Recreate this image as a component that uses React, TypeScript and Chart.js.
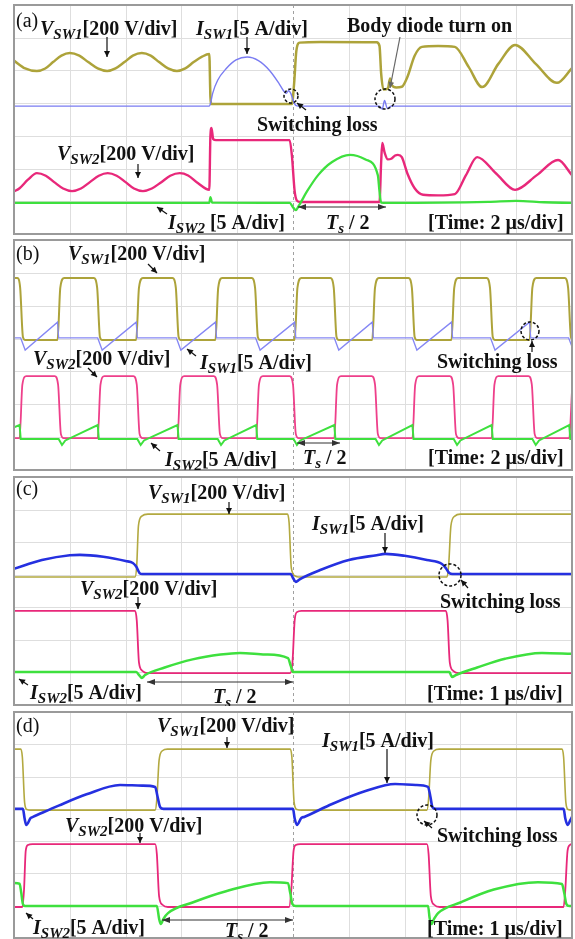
import React, { useEffect, useRef } from 'react';
import { Chart, registerables } from 'chart.js';
Chart.register(...registerables);

type P = [number, number];

// ---------- Panel (a): time 2 us/div, values in divisions ----------
const A_VSW1: P[] = [[0,5.3],[0.2,5.06],[0.41,4.98],[0.56,5.06],[0.7,5.255],[0.85,5.45],[1.0,5.53],[1.17,5.45],[1.33,5.255],[1.5,5.06],[1.67,4.98],[1.82,5.06],[1.98,5.255],[2.13,5.45],[2.29,5.53],[2.45,5.45],[2.6,5.255],[2.76,5.06],[2.92,4.98],[3.07,5.06],[3.22,5.255],[3.37,5.42],[3.5,5.5],[3.52,4.2],[3.54,3.97],[4.98,3.97],[5.02,4.6],[5.06,5.6],[5.12,5.85],[5.5,5.87],[6.5,5.86],[6.55,5.75],[6.58,4.9],[6.62,4.42],[6.7,4.45],[6.74,4.75],[6.77,4.55],[6.85,4.48],[6.95,4.5],[7.05,4.8],[7.18,5.45],[7.31,5.72],[7.6,5.75],[7.9,5.72],[8.15,5.1],[8.39,4.49],[8.68,5.2],[8.98,5.78],[9.35,5.2],[9.73,4.62],[10,5.07]];
const A_ISW1: P[] = [[0,3.91],[3.5,3.91],[3.52,3.98],[3.56,4.3],[3.65,4.7],[3.8,5.05],[3.98,5.32],[4.18,5.41],[4.38,5.3],[4.58,5.0],[4.75,4.6],[4.83,4.38],[4.88,4.3],[4.92,4.38],[4.96,4.3],[5.0,4.1],[5.05,3.93],[5.1,3.91],[6.55,3.91],[6.6,3.82],[6.64,4.08],[6.69,3.84],[6.76,3.91],[10,3.91]];
const A_VSW2: P[] = [[0,1.3],[0.1,1.4],[0.25,1.66],[0.41,1.86],[0.57,1.78],[0.72,1.585],[0.88,1.39],[1.04,1.31],[1.2,1.39],[1.36,1.585],[1.52,1.78],[1.68,1.86],[1.84,1.78],[2.0,1.585],[2.15,1.39],[2.31,1.31],[2.47,1.39],[2.64,1.585],[2.8,1.78],[2.97,1.86],[3.12,1.79],[3.3,1.55],[3.5,1.35],[3.52,3.0],[3.54,3.24],[3.57,2.9],[3.62,2.87],[4.94,2.87],[4.98,2.4],[5.03,1.3],[5.07,1.02],[5.12,0.98],[6.55,0.98],[6.58,2.2],[6.6,2.78],[6.64,2.5],[6.7,2.28],[6.76,2.3],[6.83,2.4],[6.88,2.42],[6.95,2.35],[7.05,1.85],[7.18,1.4],[7.33,1.2],[7.6,1.18],[7.9,1.22],[8.1,1.8],[8.3,2.35],[8.64,1.85],[8.98,1.35],[9.37,1.8],[9.75,2.26],[10,1.8]];
const A_ISW2: P[] = [[0,0.95],[3.5,0.95],[3.52,1.13],[3.55,0.96],[4.94,0.95],[5.0,0.82],[5.05,0.73],[5.1,0.85],[5.25,1.3],[5.45,1.8],[5.7,2.2],[6.02,2.42],[6.3,2.28],[6.52,1.8],[6.55,1.3],[6.58,0.96],[6.7,0.95],[8.5,0.98],[9.0,1.01],[9.5,0.97],[10,0.95]];

// ---------- Panel (b): time 2 us/div ----------
const B_VSW1: P[] = [[0,5.84],[0.06,5.84],[0.11,5.55],[0.16,4.05],[0.2,3.96],[0.78,3.96],[0.83,5.55],[0.9,5.84],[1.43,5.84],[1.49,5.55],[1.54,4.05],[1.58,3.96],[2.19,3.96],[2.24,5.55],[2.31,5.84],[2.84,5.84],[2.9,5.55],[2.95,4.05],[2.99,3.96],[3.61,3.96],[3.66,5.55],[3.73,5.84],[4.26,5.84],[4.32,5.55],[4.37,4.05],[4.41,3.96],[5.03,3.96],[5.08,5.55],[5.15,5.84],[5.67,5.84],[5.73,5.55],[5.78,4.05],[5.82,3.96],[6.42,3.96],[6.47,5.55],[6.54,5.84],[7.07,5.84],[7.13,5.55],[7.18,4.05],[7.22,3.96],[7.84,3.96],[7.89,5.55],[7.96,5.84],[8.47,5.84],[8.53,5.55],[8.58,4.05],[8.62,3.96],[9.24,3.96],[9.29,5.55],[9.36,5.84],[9.87,5.84],[9.93,5.55],[9.98,4.05],[10,3.98]];
const B_ISW1: P[] = [[0,4.02],[0.12,4.02],[0.2,3.65],[0.78,4.5],[0.8,4.02],[1.5,4.02],[1.58,3.65],[2.19,4.5],[2.21,4.02],[2.91,4.02],[2.99,3.65],[3.61,4.5],[3.63,4.02],[4.33,4.02],[4.41,3.65],[5.03,4.5],[5.05,4.02],[5.74,4.02],[5.82,3.65],[6.42,4.5],[6.44,4.02],[7.14,4.02],[7.22,3.65],[7.84,4.5],[7.86,4.02],[8.54,4.02],[8.62,3.65],[9.24,4.5],[9.26,4.02],[9.94,4.02],[10,3.75]];
const B_VSW2: P[] = [[0,0.97],[0.1,0.97],[0.15,2.6],[0.22,2.86],[0.73,2.86],[0.79,2.6],[0.84,1.1],[0.89,0.97],[1.5,0.97],[1.55,2.6],[1.62,2.86],[2.14,2.86],[2.2,2.6],[2.25,1.1],[2.3,0.97],[2.93,0.97],[2.98,2.6],[3.05,2.86],[3.58,2.86],[3.64,2.6],[3.69,1.1],[3.74,0.97],[4.34,0.97],[4.39,2.6],[4.46,2.86],[4.94,2.86],[5.0,2.6],[5.05,1.1],[5.1,0.97],[5.74,0.97],[5.79,2.6],[5.86,2.86],[6.41,2.86],[6.47,2.6],[6.52,1.1],[6.57,0.97],[7.14,0.97],[7.19,2.6],[7.26,2.86],[7.81,2.86],[7.87,2.6],[7.92,1.1],[7.97,0.97],[8.56,0.97],[8.61,2.6],[8.68,2.86],[9.22,2.86],[9.28,2.6],[9.33,1.1],[9.38,0.97],[9.95,0.97],[10,2.4]];
const B_ISW2: P[] = [[0,1.3],[0.1,1.37],[0.12,0.94],[0.8,0.94],[0.86,0.76],[0.92,0.9],[1.5,1.37],[1.52,0.94],[2.21,0.94],[2.27,0.76],[2.33,0.9],[2.93,1.37],[2.95,0.94],[3.65,0.94],[3.71,0.76],[3.77,0.9],[4.34,1.37],[4.36,0.94],[5.01,0.94],[5.07,0.76],[5.13,0.9],[5.74,1.37],[5.76,0.94],[6.48,0.94],[6.54,0.76],[6.6,0.9],[7.14,1.37],[7.16,0.94],[7.88,0.94],[7.94,0.76],[8.0,0.9],[8.56,1.37],[8.58,0.94],[9.29,0.94],[9.35,0.76],[9.41,0.9],[9.95,1.37],[9.97,0.94],[10,0.94]];

// ---------- Panel (c): time 1 us/div ----------
const C_VSW1: P[] = [[0,3.93],[2.17,3.93],[2.2,4.3],[2.23,5.5],[2.29,5.8],[2.4,5.86],[4.9,5.86],[4.93,5.6],[4.97,4.2],[5.04,3.96],[5.1,3.93],[7.76,3.93],[7.79,4.3],[7.83,5.5],[7.9,5.8],[8.0,5.86],[10,5.86]];
const C_ISW1: P[] = [[0,4.18],[0.5,4.45],[1.0,4.6],[1.18,4.61],[1.6,4.55],[2.0,4.42],[2.13,4.36],[2.19,4.25],[2.25,4.05],[2.3,4.02],[4.96,4.02],[5.0,3.9],[5.05,3.78],[5.12,3.86],[5.5,4.15],[6.0,4.45],[6.5,4.6],[6.65,4.64],[7.0,4.58],[7.4,4.45],[7.67,4.33],[7.74,4.2],[7.8,4.05],[7.86,4.02],[10,4.02]];
const C_VSW2: P[] = [[0,2.89],[2.17,2.89],[2.2,2.6],[2.24,1.3],[2.3,1.05],[2.4,0.98],[4.95,0.98],[4.99,1.3],[5.03,2.6],[5.07,2.85],[5.15,2.89],[7.74,2.89],[7.77,2.6],[7.81,1.3],[7.87,1.05],[7.97,0.98],[10,0.98]];
const C_ISW2: P[] = [[0,1.01],[2.19,1.01],[2.25,0.9],[2.29,0.83],[2.35,0.92],[2.7,1.15],[3.2,1.4],[3.7,1.55],[4.05,1.6],[4.5,1.55],[4.91,1.44],[4.96,1.2],[5.0,1.01],[7.8,1.01],[7.83,0.92],[7.85,0.86],[7.92,0.92],[8.3,1.15],[8.8,1.42],[9.46,1.6],[10,1.57]];

// ---------- Panel (d): time 1 us/div ----------
const D_VSW1: P[] = [[0,5.85],[0.12,5.85],[0.15,5.6],[0.19,4.2],[0.23,3.98],[0.3,3.96],[2.53,3.96],[2.56,4.3],[2.6,5.5],[2.66,5.8],[2.75,5.85],[4.95,5.85],[4.98,5.6],[5.02,4.2],[5.07,3.98],[5.15,3.96],[7.4,3.96],[7.43,4.3],[7.47,5.5],[7.53,5.8],[7.62,5.85],[9.82,5.85],[9.85,5.6],[9.89,4.2],[9.93,3.98],[10,3.96]];
const D_ISW1: P[] = [[0,4.0],[0.16,4.0],[0.19,3.7],[0.22,3.5],[0.3,3.72],[0.34,3.75],[0.8,4.1],[1.3,4.45],[1.9,4.74],[2.3,4.72],[2.53,4.68],[2.57,4.4],[2.62,4.05],[2.68,4.0],[5.0,4.0],[5.03,3.7],[5.07,3.5],[5.15,3.72],[5.2,3.75],[5.7,4.15],[6.3,4.55],[6.83,4.77],[7.2,4.74],[7.42,4.68],[7.46,4.4],[7.5,4.05],[7.56,4.0],[9.85,4.0],[9.88,3.7],[9.92,3.5],[9.97,3.65],[10,3.75]];
const D_VSW2: P[] = [[0,0.96],[0.15,0.96],[0.18,1.5],[0.21,2.7],[0.25,2.88],[0.33,2.91],[2.53,2.91],[2.56,2.6],[2.6,1.3],[2.66,1.03],[2.76,0.96],[4.93,0.96],[4.97,1.5],[5.01,2.7],[5.05,2.88],[5.13,2.91],[7.4,2.91],[7.43,2.6],[7.47,1.3],[7.53,1.03],[7.63,0.96],[9.85,0.96],[9.88,1.5],[9.92,2.7],[9.96,2.88],[10,2.91]];
const D_ISW2: P[] = [[0,1.7],[0.1,1.68],[0.13,1.4],[0.16,1.05],[0.2,0.99],[2.56,0.99],[2.6,0.6],[2.63,0.43],[2.68,0.6],[2.76,0.77],[3.2,1.1],[3.8,1.45],[4.59,1.73],[4.91,1.7],[4.95,1.4],[4.99,1.05],[5.05,0.99],[7.42,0.99],[7.45,0.6],[7.48,0.43],[7.53,0.6],[7.6,0.77],[8.0,1.1],[8.6,1.5],[9.39,1.73],[9.82,1.67],[9.86,1.4],[9.9,1.05],[9.95,0.99],[10,0.99]];

const X_DIVS = 10;
const Y_DIVS = 7;

type Ann =
  | { k: 'txt'; x: number; y: number; s: string; reg?: boolean }
  | { k: 'sub'; x: number; y: number; m: string; sub: string; r: string }
  | { k: 'arr'; x1: number; y1: number; x2: number; y2: number; c?: string }
  | { k: 'dbl'; x1: number; x2: number; y: number }
  | { k: 'cir'; x: number; y: number; r: number };

const FONT = '"Liberation Serif", "Times New Roman", serif';

function head(ctx: CanvasRenderingContext2D, x1: number, y1: number, x2: number, y2: number, len = 6, hw = 3) {
  const ang = Math.atan2(y2 - y1, x2 - x1);
  ctx.beginPath();
  ctx.moveTo(x2, y2);
  ctx.lineTo(x2 - len * Math.cos(ang) + hw * Math.sin(ang), y2 - len * Math.sin(ang) - hw * Math.cos(ang));
  ctx.lineTo(x2 - len * Math.cos(ang) - hw * Math.sin(ang), y2 - len * Math.sin(ang) + hw * Math.cos(ang));
  ctx.closePath();
  ctx.fill();
}

function drawAnns(ctx: CanvasRenderingContext2D, anns: Ann[]) {
  ctx.save();
  ctx.textBaseline = 'alphabetic';
  for (const a of anns) {
    ctx.fillStyle = '#111';
    ctx.strokeStyle = '#111';
    ctx.setLineDash([]);
    if (a.k === 'txt') {
      ctx.font = `${a.reg ? '' : 'bold '}20px ${FONT}`;
      ctx.fillText(a.s, a.x, a.y + 7);
    } else if (a.k === 'sub') {
      let x = a.x;
      ctx.font = `italic bold 20px ${FONT}`;
      ctx.fillText(a.m, x, a.y + 7);
      x += ctx.measureText(a.m).width;
      ctx.font = `italic bold 15px ${FONT}`;
      ctx.fillText(a.sub, x, a.y + 11);
      x += ctx.measureText(a.sub).width;
      ctx.font = `bold 20px ${FONT}`;
      ctx.fillText(a.r, x, a.y + 7);
    } else if (a.k === 'arr') {
      const c = a.c || '#111';
      ctx.strokeStyle = c;
      ctx.fillStyle = c;
      ctx.lineWidth = 1.2;
      ctx.beginPath();
      ctx.moveTo(a.x1, a.y1);
      ctx.lineTo(a.x2, a.y2);
      ctx.stroke();
      head(ctx, a.x1, a.y1, a.x2, a.y2, 6, 3);
    } else if (a.k === 'dbl') {
      ctx.strokeStyle = '#333';
      ctx.fillStyle = '#333';
      ctx.lineWidth = 1.2;
      ctx.beginPath();
      ctx.moveTo(a.x1, a.y);
      ctx.lineTo(a.x2, a.y);
      ctx.stroke();
      head(ctx, a.x2, a.y, a.x1, a.y, 8, 3);
      head(ctx, a.x1, a.y, a.x2, a.y, 8, 3);
    } else if (a.k === 'cir') {
      ctx.lineWidth = 1.5;
      ctx.setLineDash([3, 2]);
      ctx.beginPath();
      ctx.arc(a.x, a.y, a.r, 0, Math.PI * 2);
      ctx.stroke();
    }
  }
  ctx.restore();
}

type Trace = { data: P[]; color: string; width: number; straight?: boolean };
type PanelCfg = { left: number; top: number; width: number; height: number; traces: Trace[]; anns: Ann[] };

const OLIVE = '#ada33a';
const PINK = '#e8287a';
const GREEN = '#3ee03e';

const PANELS: PanelCfg[] = [
  {
    left: 13, top: 4, width: 560, height: 231,
    traces: [
      { data: A_ISW2, color: GREEN, width: 2.3 },
      { data: A_VSW2, color: PINK, width: 2.4 },
      { data: A_ISW1, color: '#7a7cf2', width: 1.4 },
      { data: A_VSW1, color: OLIVE, width: 2.5 },
    ],
    anns: [
      { k: 'txt', x: 16, y: 20, s: '(a)', reg: true },
      { k: 'sub', x: 40, y: 28, m: 'V', sub: 'SW1', r: '[200 V/div]' },
      { k: 'arr', x1: 107, y1: 37, x2: 107, y2: 57 },
      { k: 'sub', x: 196, y: 28, m: 'I', sub: 'SW1', r: '[5 A/div]' },
      { k: 'arr', x1: 247, y1: 37, x2: 247, y2: 54 },
      { k: 'txt', x: 347, y: 25, s: 'Body diode turn on' },
      { k: 'arr', x1: 400, y1: 37, x2: 390, y2: 88, c: '#666' },
      { k: 'cir', x: 291, y: 96, r: 7 },
      { k: 'cir', x: 385, y: 99, r: 10 },
      { k: 'txt', x: 257, y: 124, s: 'Switching loss' },
      { k: 'arr', x1: 306, y1: 110, x2: 297, y2: 103 },
      { k: 'sub', x: 57, y: 153, m: 'V', sub: 'SW2', r: '[200 V/div]' },
      { k: 'arr', x1: 138, y1: 164, x2: 138, y2: 178 },
      { k: 'arr', x1: 167, y1: 214, x2: 157, y2: 207 },
      { k: 'sub', x: 168, y: 222, m: 'I', sub: 'SW2', r: ' [5 A/div]' },
      { k: 'dbl', x1: 298, x2: 386, y: 207 },
      { k: 'sub', x: 326, y: 222, m: 'T', sub: 's', r: ' / 2' },
      { k: 'txt', x: 428, y: 222, s: '[Time: 2 \u00b5s/div]' },
    ],
  },
  {
    left: 13, top: 239, width: 560, height: 232,
    traces: [
      { data: B_ISW2, color: GREEN, width: 2, straight: true },
      { data: B_VSW2, color: '#ee3f8a', width: 1.8 },
      { data: B_ISW1, color: '#8587f4', width: 1.3, straight: true },
      { data: B_VSW1, color: OLIVE, width: 2 },
    ],
    anns: [
      { k: 'txt', x: 16, y: 253, s: '(b)', reg: true },
      { k: 'sub', x: 68, y: 253, m: 'V', sub: 'SW1', r: '[200 V/div]' },
      { k: 'arr', x1: 148, y1: 264, x2: 157, y2: 273 },
      { k: 'sub', x: 33, y: 358, m: 'V', sub: 'SW2', r: '[200 V/div]' },
      { k: 'arr', x1: 88, y1: 368, x2: 97, y2: 377 },
      { k: 'sub', x: 200, y: 362, m: 'I', sub: 'SW1', r: '[5 A/div]' },
      { k: 'arr', x1: 196, y1: 356, x2: 187, y2: 349 },
      { k: 'sub', x: 165, y: 459, m: 'I', sub: 'SW2', r: '[5 A/div]' },
      { k: 'arr', x1: 160, y1: 451, x2: 151, y2: 443 },
      { k: 'txt', x: 437, y: 361, s: 'Switching loss' },
      { k: 'arr', x1: 532, y1: 352, x2: 532, y2: 341 },
      { k: 'cir', x: 530, y: 331, r: 9 },
      { k: 'dbl', x1: 297, x2: 340, y: 443 },
      { k: 'sub', x: 303, y: 457, m: 'T', sub: 's', r: ' / 2' },
      { k: 'txt', x: 428, y: 457, s: '[Time: 2 \u00b5s/div]' },
    ],
  },
  {
    left: 13, top: 476, width: 560, height: 230,
    traces: [
      { data: C_ISW2, color: GREEN, width: 2.5 },
      { data: C_VSW2, color: PINK, width: 1.8 },
      { data: C_ISW1, color: '#2530e0', width: 2.6 },
      { data: C_VSW1, color: '#b3a940', width: 1.6 },
    ],
    anns: [
      { k: 'txt', x: 16, y: 488, s: '(c)', reg: true },
      { k: 'sub', x: 148, y: 492, m: 'V', sub: 'SW1', r: '[200 V/div]' },
      { k: 'arr', x1: 229, y1: 502, x2: 229, y2: 514 },
      { k: 'sub', x: 312, y: 523, m: 'I', sub: 'SW1', r: '[5 A/div]' },
      { k: 'arr', x1: 385, y1: 533, x2: 385, y2: 553 },
      { k: 'sub', x: 80, y: 588, m: 'V', sub: 'SW2', r: '[200 V/div]' },
      { k: 'arr', x1: 138, y1: 597, x2: 138, y2: 609 },
      { k: 'txt', x: 440, y: 601, s: 'Switching loss' },
      { k: 'arr', x1: 468, y1: 588, x2: 461, y2: 580 },
      { k: 'cir', x: 450, y: 575, r: 11 },
      { k: 'sub', x: 30, y: 692, m: 'I', sub: 'SW2', r: '[5 A/div]' },
      { k: 'arr', x1: 28, y1: 685, x2: 19, y2: 679 },
      { k: 'dbl', x1: 147, x2: 293, y: 682 },
      { k: 'sub', x: 213, y: 696, m: 'T', sub: 's', r: ' / 2' },
      { k: 'txt', x: 427, y: 693, s: '[Time: 1 \u00b5s/div]' },
    ],
  },
  {
    left: 13, top: 711, width: 560, height: 228,
    traces: [
      { data: D_ISW2, color: GREEN, width: 2.5 },
      { data: D_VSW2, color: PINK, width: 1.8 },
      { data: D_ISW1, color: '#2530e0', width: 2.6 },
      { data: D_VSW1, color: '#b3a940', width: 1.6 },
    ],
    anns: [
      { k: 'txt', x: 16, y: 725, s: '(d)', reg: true },
      { k: 'sub', x: 157, y: 725, m: 'V', sub: 'SW1', r: '[200 V/div]' },
      { k: 'arr', x1: 227, y1: 737, x2: 227, y2: 748 },
      { k: 'sub', x: 322, y: 740, m: 'I', sub: 'SW1', r: '[5 A/div]' },
      { k: 'arr', x1: 387, y1: 749, x2: 387, y2: 783 },
      { k: 'sub', x: 65, y: 825, m: 'V', sub: 'SW2', r: '[200 V/div]' },
      { k: 'arr', x1: 140, y1: 833, x2: 140, y2: 843 },
      { k: 'sub', x: 33, y: 927, m: 'I', sub: 'SW2', r: '[5 A/div]' },
      { k: 'arr', x1: 33, y1: 919, x2: 26, y2: 913 },
      { k: 'txt', x: 437, y: 835, s: 'Switching loss' },
      { k: 'arr', x1: 432, y1: 828, x2: 424, y2: 821 },
      { k: 'cir', x: 427, y: 815, r: 10 },
      { k: 'dbl', x1: 162, x2: 293, y: 920 },
      { k: 'sub', x: 225, y: 930, m: 'T', sub: 's', r: ' / 2' },
      { k: 'txt', x: 427, y: 928, s: '[Time: 1 \u00b5s/div]' },
    ],
  },
];

function Panel({ cfg }: { cfg: PanelCfg }) {
  const ref = useRef<HTMLCanvasElement>(null);
  useEffect(() => {
    const canvas = ref.current!;
    const scopePlugin = {
      id: 'scope',
      beforeDatasetsDraw(chart: any) {
        const { ctx, chartArea: a, scales } = chart;
        const x = scales.x, y = scales.y;
        ctx.save();
        ctx.fillStyle = '#ffffff';
        ctx.fillRect(a.left, a.top, a.right - a.left, a.bottom - a.top);
        ctx.strokeStyle = '#dedede';
        ctx.lineWidth = 1;
        for (let i = 1; i < X_DIVS; i++) {
          if (i === X_DIVS / 2) continue;
          const px = Math.round(x.getPixelForValue(i)) + 0.5;
          ctx.beginPath(); ctx.moveTo(px, a.top); ctx.lineTo(px, a.bottom); ctx.stroke();
        }
        for (let j = 1; j < Y_DIVS; j++) {
          const py = Math.round(y.getPixelForValue(j)) + 0.5;
          ctx.beginPath(); ctx.moveTo(a.left, py); ctx.lineTo(a.right, py); ctx.stroke();
        }
        ctx.strokeStyle = '#a0a0a0';
        ctx.setLineDash([3, 3]);
        const cx = Math.round(x.getPixelForValue(X_DIVS / 2)) + 0.5;
        ctx.beginPath(); ctx.moveTo(cx, a.top); ctx.lineTo(cx, a.bottom); ctx.stroke();
        ctx.restore();
      },
      afterDatasetsDraw(chart: any) {
        const { ctx, chartArea: a } = chart;
        ctx.save();
        ctx.strokeStyle = '#9a9a9a';
        ctx.lineWidth = 2;
        ctx.strokeRect(a.left, a.top, a.right - a.left, a.bottom - a.top);
        ctx.translate(-cfg.left, -cfg.top);
        drawAnns(ctx, cfg.anns);
        ctx.restore();
      },
    };
    const chart = new Chart(canvas, {
      type: 'line',
      data: {
        datasets: cfg.traces.map((t) => ({
          data: t.data as any,
          borderColor: t.color,
          borderWidth: t.width,
          pointRadius: 0,
          fill: false,
          tension: 0,
          cubicInterpolationMode: t.straight ? 'default' : 'monotone',
        })),
      },
      options: {
        responsive: false,
        animation: false,
        events: [],
        layout: { padding: 1 },
        scales: {
          x: { type: 'linear', min: 0, max: X_DIVS, display: false },
          y: { type: 'linear', min: 0, max: Y_DIVS, display: false },
        },
        plugins: { legend: { display: false }, tooltip: { enabled: false } },
      } as any,
      plugins: [scopePlugin],
    });
    return () => chart.destroy();
  }, [cfg]);
  return (
    <canvas
      ref={ref}
      width={cfg.width}
      height={cfg.height}
      style={{ position: 'absolute', left: cfg.left, top: cfg.top, width: cfg.width, height: cfg.height }}
    />
  );
}

export default function App() {
  return (
    <div style={{ position: 'absolute', left: 0, top: 0, width: 575, height: 939, background: '#fff', overflow: 'hidden' }}>
      {PANELS.map((p, i) => (
        <Panel key={i} cfg={p} />
      ))}
    </div>
  );
}
